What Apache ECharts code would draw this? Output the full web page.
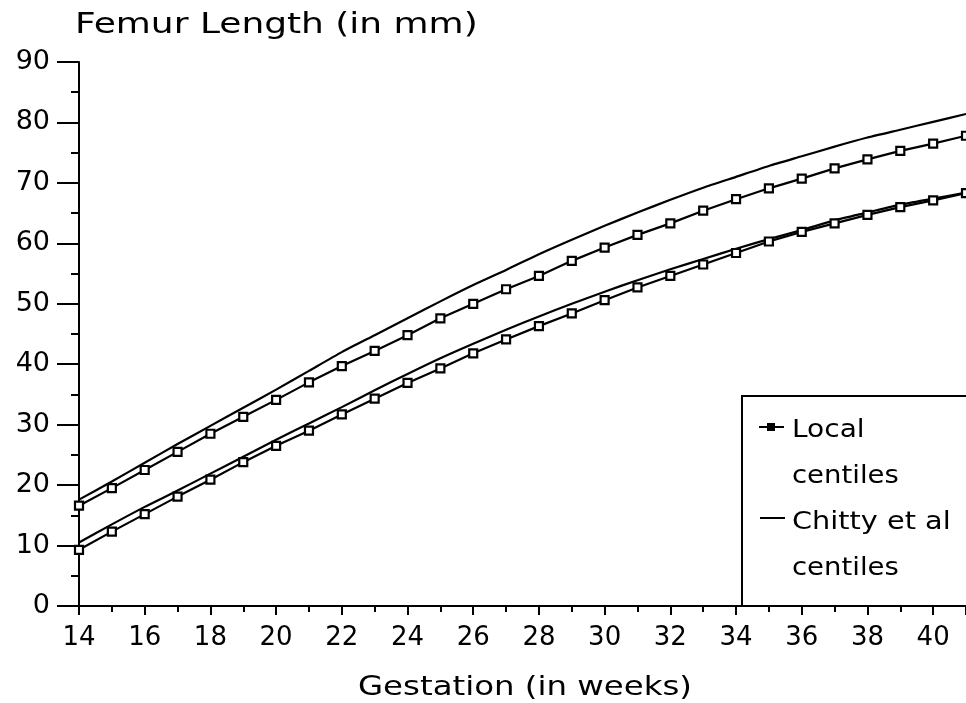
<!DOCTYPE html>
<html>
<head>
<meta charset="utf-8">
<title>Femur Length</title>
<script src="https://cdn.jsdelivr.net/npm/echarts@6/dist/echarts.min.js"></script>
<style>
  html, body { margin: 0; padding: 0; background: #fff; }
  #chart { width: 966px; height: 703px; }
</style>
</head>
<body>
<div id="chart"></div>
<script>
// gestation weeks 14..41
const weeks = [14, 15, 16, 17, 18, 19, 20, 21, 22, 23, 24, 25, 26, 27, 28, 29, 30, 31, 32, 33, 34, 35, 36, 37, 38, 39, 40, 41];

// local centiles (with markers)
const localUpper = [16.6, 19.5, 22.5, 25.5, 28.5, 31.3, 34.1, 37.0, 39.7, 42.2, 44.8, 47.6, 50.0, 52.4, 54.6, 57.1, 59.3, 61.4, 63.3, 65.4, 67.3, 69.1, 70.7, 72.4, 73.9, 75.3, 76.5, 77.8];
const localLower = [9.3, 12.3, 15.2, 18.1, 20.9, 23.8, 26.5, 29.0, 31.7, 34.3, 36.9, 39.3, 41.8, 44.1, 46.3, 48.4, 50.6, 52.7, 54.6, 56.5, 58.4, 60.3, 61.9, 63.3, 64.7, 66.0, 67.1, 68.3];

// Chitty et al centiles (plain lines)
const chittyUpper = [17.6, 20.6, 23.7, 26.8, 29.8, 32.8, 35.8, 38.9, 42.0, 44.8, 47.6, 50.4, 53.1, 55.6, 58.2, 60.6, 62.9, 65.1, 67.2, 69.2, 71.0, 72.8, 74.4, 76.0, 77.5, 78.8, 80.1, 81.4];
const chittyLower = [10.5, 13.5, 16.4, 19.1, 21.9, 24.7, 27.5, 30.2, 32.9, 35.7, 38.4, 41.0, 43.4, 45.7, 47.9, 50.0, 52.0, 53.9, 55.7, 57.4, 59.1, 60.7, 62.2, 63.8, 65.1, 66.4, 67.4, 68.4];

const titleText = 'Femur Length (in mm)';
const xTitleText = 'Gestation (in weeks)';
const legendLocal = ['Local', 'centiles'];
const legendChitty = ['Chitty et al', 'centiles'];

const font = '"DejaVu Sans", sans-serif';

function pairs(values) {
  return weeks.map((w, i) => [w, values[i]]);
}

function localSeries(values) {
  return {
    type: 'line',
    name: 'Local centiles',
    data: pairs(values),
    symbol: 'rect',
    symbolSize: 8,
    showAllSymbol: true,
    lineStyle: { color: '#000', width: 2.2 },
    itemStyle: { color: '#fff', borderColor: '#000', borderWidth: 2.2 },
    animation: false,
    z: 3
  };
}

function chittySeries(values) {
  return {
    type: 'line',
    name: 'Chitty et al centiles',
    data: pairs(values),
    symbol: 'none',
    smooth: 0.2,
    lineStyle: { color: '#000', width: 2.2 },
    animation: false,
    z: 2
  };
}

const myChart = echarts.init(document.getElementById('chart'));
myChart.setOption({
  backgroundColor: '#fff',
  animation: false,
  grid: {
    left: 79,
    top: 62,
    right: 0,
    bottom: 97,
    containLabel: false
  },
  xAxis: {
    type: 'value',
    min: 14,
    max: 41,
    interval: 2,
    axisLine: { show: true, onZero: false, lineStyle: { color: '#000', width: 2 } },
    axisTick: { show: true, inside: false, length: 9, lineStyle: { color: '#000', width: 2 } },
    minorTick: { show: true, splitNumber: 2, length: 6, lineStyle: { color: '#000', width: 2 } },
    splitLine: { show: false },
    minorSplitLine: { show: false },
    axisLabel: {
      color: '#000',
      fontFamily: font,
      fontSize: 26,
      margin: 19,
      showMaxLabel: false,
      formatter: v => (v % 2 === 0 ? String(v) : '')
    }
  },
  yAxis: {
    type: 'value',
    min: 0,
    max: 90,
    interval: 10,
    axisLine: { show: true, lineStyle: { color: '#000', width: 2 } },
    axisTick: { show: true, inside: false, length: 22, lineStyle: { color: '#000', width: 2 } },
    minorTick: { show: true, splitNumber: 2, length: 8, lineStyle: { color: '#000', width: 2 } },
    splitLine: { show: false },
    minorSplitLine: { show: false },
    axisLabel: {
      color: '#000',
      fontFamily: font,
      fontSize: 27,
      margin: 29
    }
  },
  graphic: [
    {
      type: 'text',
      x: 75,
      y: 25,
      scaleX: 1.24,
      style: { text: titleText, font: '29px ' + font, fill: '#000', textVerticalAlign: 'middle' }
    },
    {
      type: 'text',
      x: 525,
      y: 688,
      scaleX: 1.2,
      style: { text: xTitleText, font: '27px ' + font, fill: '#000', textAlign: 'center', textVerticalAlign: 'middle' }
    },
    {
      type: 'rect',
      shape: { x: 742, y: 396, width: 300, height: 210 },
      style: { fill: '#fff', stroke: '#000', lineWidth: 2 },
      z: 1
    },
    {
      type: 'line',
      shape: { x1: 759, y1: 427, x2: 784, y2: 427 },
      style: { stroke: '#000', lineWidth: 2 },
      z: 5
    },
    {
      type: 'rect',
      shape: { x: 767, y: 423, width: 8, height: 8 },
      style: { fill: '#000' },
      z: 5
    },
    {
      type: 'line',
      shape: { x1: 760, y1: 518, x2: 785, y2: 518 },
      style: { stroke: '#000', lineWidth: 2 },
      z: 5
    },
    {
      type: 'text',
      x: 792,
      y: 430,
      scaleX: 1.12,
      style: { text: legendLocal[0], font: '25px ' + font, fill: '#000', textVerticalAlign: 'middle' },
      z: 5
    },
    {
      type: 'text',
      x: 792,
      y: 476,
      scaleX: 1.1,
      style: { text: legendLocal[1], font: '25px ' + font, fill: '#000', textVerticalAlign: 'middle' },
      z: 5
    },
    {
      type: 'text',
      x: 792,
      y: 522,
      scaleX: 1.15,
      style: { text: legendChitty[0], font: '25px ' + font, fill: '#000', textVerticalAlign: 'middle' },
      z: 5
    },
    {
      type: 'text',
      x: 792,
      y: 568,
      scaleX: 1.1,
      style: { text: legendChitty[1], font: '25px ' + font, fill: '#000', textVerticalAlign: 'middle' },
      z: 5
    }
  ],
  series: [
    chittySeries(chittyUpper),
    localSeries(localUpper),
    chittySeries(chittyLower),
    localSeries(localLower)
  ]
});
</script>
</body>
</html>
